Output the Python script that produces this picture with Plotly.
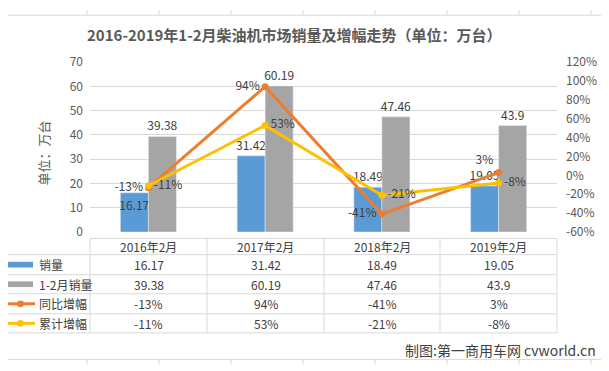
import plotly.graph_objects as go

W, H = 609, 371
OFF = 8  # page body margin offset compensation

# ---- data ----
categories = ["2016年2月", "2017年2月", "2018年2月", "2019年2月"]
sales = [16.17, 31.42, 18.49, 19.05]          # 销量
cum_sales = [39.38, 60.19, 47.46, 43.9]       # 1-2月销量
yoy = [-13, 94, -41, 3]                       # 同比增幅 (%)
cum_growth = [-11, 53, -21, -8]               # 累计增幅 (%)
left_ticks = [0, 10, 20, 30, 40, 50, 60, 70]
right_ticks = [-60, -40, -20, 0, 20, 40, 60, 80, 100, 120]

BLUE, GRAY, ORANGE, YELLOW = "#5B9BD5", "#A5A5A5", "#ED7D31", "#FFC000"
TXT, AX = "#404040", "#595959"
GRID = "#D9D9D9"
FONT = "Noto Sans CJK SC"


def X(px):
    return (px - OFF) / W


def Y(py):
    return 1 - (py - OFF) / H


PL, PR, PT, PB = 90, 557, 54.3, 232.3

fig = go.Figure()
fig.add_trace(go.Bar(
    x=categories, y=sales, name="销量", marker_color=BLUE,
    text=[str(v) for v in sales],
    textposition=["inside", "outside", "outside", "outside"],
    insidetextanchor="end", constraintext="none", textangle=0,
    textfont=dict(family=FONT, size=12, color=TXT), cliponaxis=False,
))
fig.add_trace(go.Bar(
    x=categories, y=cum_sales, name="1-2月销量", marker_color=GRAY,
    text=[str(v) for v in cum_sales], textposition="outside",
    constraintext="none", textangle=0,
    textfont=dict(family=FONT, size=12, color=TXT), cliponaxis=False,
))
fig.add_trace(go.Scatter(
    x=categories, y=yoy, name="同比增幅", yaxis="y2",
    mode="lines+markers+text",
    line=dict(color=ORANGE, width=3), marker=dict(color=ORANGE, size=7),
    text=[f"{v}%" for v in yoy],
    textposition=["middle left", "middle left", "middle left", "top left"],
    textfont=dict(family=FONT, size=12, color=TXT), cliponaxis=False,
))
fig.add_trace(go.Scatter(
    x=categories, y=cum_growth, name="累计增幅", yaxis="y2",
    mode="lines+markers+text",
    line=dict(color=YELLOW, width=3), marker=dict(color=YELLOW, size=7),
    text=[f"{v}%" for v in cum_growth],
    textposition="middle right",
    textfont=dict(family=FONT, size=12, color=TXT), cliponaxis=False,
))

shapes = []
# spreadsheet background grid (outside the chart box)
for vx in [87, 159, 231, 303, 375, 447, 519, 591]:
    for y0, y1 in [(0, 5), (366, 371)]:
        shapes.append(dict(type="line", xref="paper", yref="paper",
                           x0=X(vx), x1=X(vx), y0=Y(y0), y1=Y(y1),
                           line=dict(color="#D4D4D4", width=1), layer="below"))
for hy in [19, 43, 67, 91.5, 115.5, 140, 164, 188, 212, 237, 261, 285, 309, 334, 358]:
    for x0, x1 in [(0, 3), (604, 609)]:
        shapes.append(dict(type="line", xref="paper", yref="paper",
                           x0=X(x0), x1=X(x1), y0=Y(hy), y1=Y(hy),
                           line=dict(color="#D4D4D4", width=1), layer="below"))
# chart border
shapes.append(dict(type="rect", xref="paper", yref="paper",
                   x0=X(3), x1=X(604), y0=Y(366), y1=Y(5),
                   line=dict(color=GRID, width=1)))

# data table
row_lines = [239, 256, 277, 297, 318, 338]
col_lines = [90, 207, 324, 440, 557]
for i, ry in enumerate(row_lines):
    x0 = PL if i == 0 else 3
    shapes.append(dict(type="line", xref="paper", yref="paper",
                       x0=X(x0), x1=X(PR), y0=Y(ry), y1=Y(ry),
                       line=dict(color=GRID, width=1)))
for cx in col_lines:
    shapes.append(dict(type="line", xref="paper", yref="paper",
                       x0=X(cx), x1=X(cx), y0=Y(239), y1=Y(338),
                       line=dict(color=GRID, width=1)))

row_centers = [(row_lines[i] + row_lines[i + 1]) / 2 for i in range(5)]
col_centers = [(col_lines[i] + col_lines[i + 1]) / 2 for i in range(4)]

# legend keys in table
for rc, col in [(row_centers[1], BLUE), (row_centers[2], GRAY)]:
    shapes.append(dict(type="rect", xref="paper", yref="paper",
                       x0=X(8), x1=X(33), y0=Y(rc + 3), y1=Y(rc - 3),
                       fillcolor=col, line=dict(width=0)))
for rc, col in [(row_centers[3], ORANGE), (row_centers[4], YELLOW)]:
    shapes.append(dict(type="line", xref="paper", yref="paper",
                       x0=X(6), x1=X(35), y0=Y(rc), y1=Y(rc),
                       line=dict(color=col, width=3)))
    shapes.append(dict(type="circle", xref="paper", yref="paper",
                       x0=X(17), x1=X(24), y0=Y(rc + 3.5), y1=Y(rc - 3.5),
                       fillcolor=col, line=dict(width=0)))

annotations = []
for c, cx in zip(categories, col_centers):
    annotations.append(dict(xref="paper", yref="paper", x=X(cx), y=Y(row_centers[0]),
                            text=c, showarrow=False, xanchor="center", yanchor="middle",
                            font=dict(family=FONT, size=12, color=TXT)))
rows = [
    ("销量", [str(v) for v in sales]),
    ("1-2月销量", [str(v) for v in cum_sales]),
    ("同比增幅", [f"{v}%" for v in yoy]),
    ("累计增幅", [f"{v}%" for v in cum_growth]),
]
for (label, vals), rc in zip(rows, row_centers[1:]):
    annotations.append(dict(xref="paper", yref="paper", x=X(37), y=Y(rc),
                            text=label, showarrow=False, xanchor="left", yanchor="middle",
                            font=dict(family=FONT, size=12, color=TXT)))
    for v, cx in zip(vals, col_centers):
        annotations.append(dict(xref="paper", yref="paper", x=X(cx), y=Y(rc),
                                text=v, showarrow=False, xanchor="center", yanchor="middle",
                                font=dict(family=FONT, size=12, color=TXT)))

# title, axis title, footer
annotations.append(dict(xref="paper", yref="paper", x=X(294), y=Y(25),
                        text="<b>2016-2019年1-2月柴油机市场销量及增幅走势（单位：万台）</b>",
                        showarrow=False, xanchor="center", yanchor="middle",
                        font=dict(family=FONT, size=15, color=AX)))
annotations.append(dict(xref="paper", yref="paper", x=X(43), y=Y(150),
                        text="单位：万台", textangle=-90, showarrow=False,
                        xanchor="center", yanchor="middle",
                        font=dict(family=FONT, size=13, color=AX)))
annotations.append(dict(xref="paper", yref="paper", x=X(598), y=Y(356),
                        text="制图:第一商用车网 cvworld.cn", showarrow=False,
                        xanchor="right", yanchor="middle",
                        font=dict(family=FONT, size=14, color=TXT)))

fig.update_layout(
    width=W, height=H, autosize=False,
    margin=dict(l=0, r=0, t=0, b=0),
    paper_bgcolor="white", plot_bgcolor="white",
    showlegend=False,
    barmode="group", bargap=0.52, bargroupgap=0,
    font=dict(family=FONT, size=12, color=AX),
    xaxis=dict(type="category", domain=[X(PL), X(PR)], range=[-0.5, 3.5],
               showticklabels=False, showgrid=False, zeroline=False, showline=False),
    yaxis=dict(domain=[Y(PB), Y(PT)], range=[0, 70], tickvals=left_ticks,
               showgrid=True, gridcolor=GRID, gridwidth=1, zeroline=False,
               showline=False, ticks="", ticklabelstandoff=6,
               tickfont=dict(family=FONT, size=12, color=AX)),
    yaxis2=dict(overlaying="y", side="right", range=[-60, 120], tickvals=right_ticks,
                ticktext=[f"{v}%" for v in right_ticks],
                showgrid=False, zeroline=False, showline=False,
                ticks="", ticklabelstandoff=8,
                tickfont=dict(family=FONT, size=12, color=AX)),
    shapes=shapes, annotations=annotations,
)

fig.write_html("out.html")
